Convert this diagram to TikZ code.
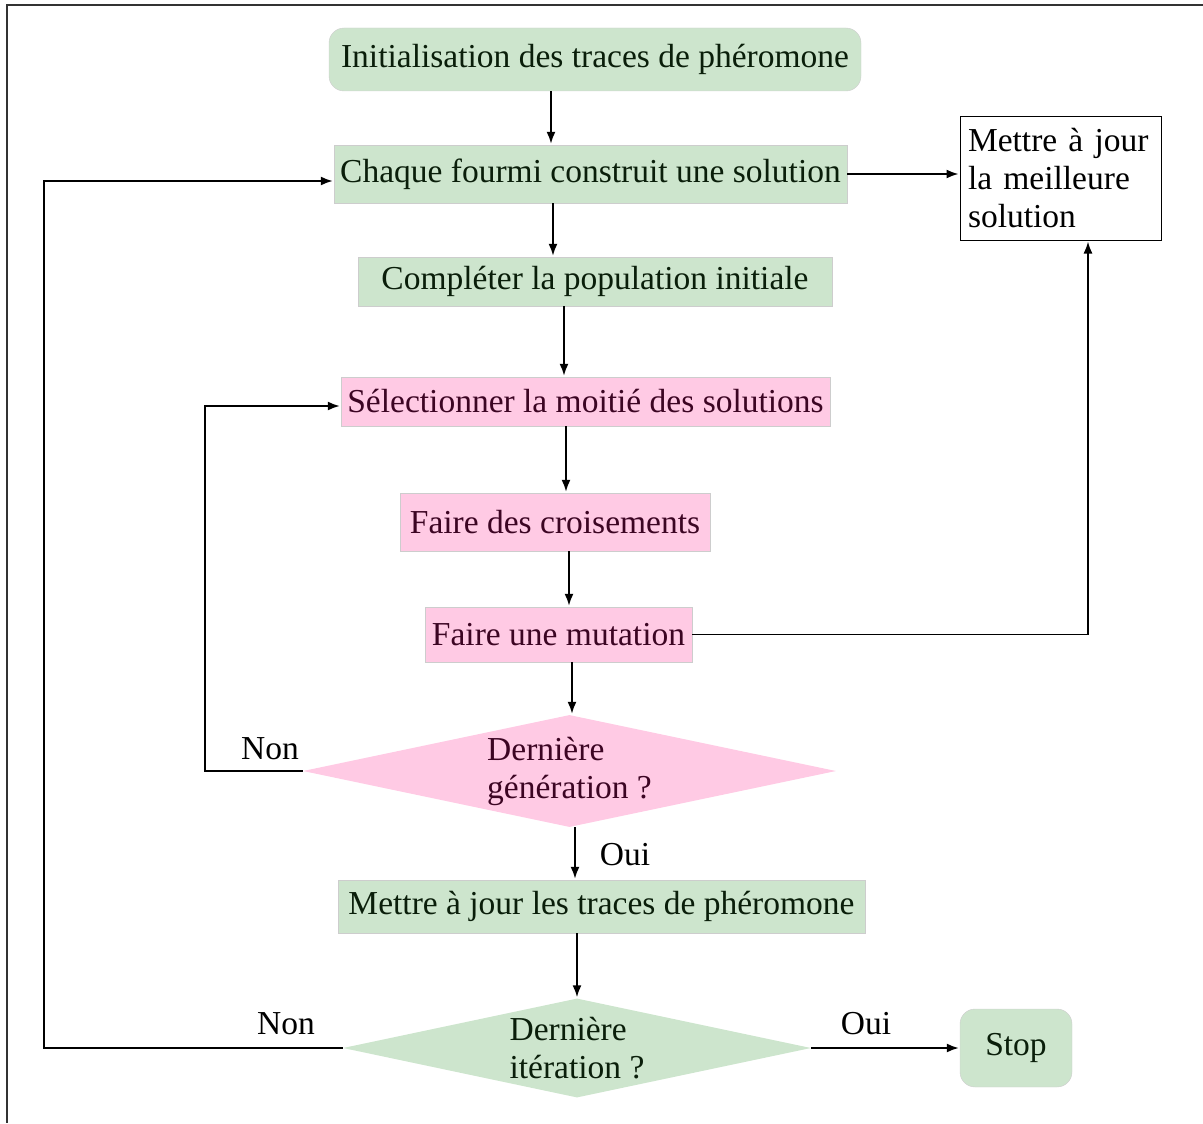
\documentclass[tikz,border=0pt]{standalone}
\usepackage{fontspec}
\setmainfont{Liberation Serif}
\usepackage{tikz}
\usetikzlibrary{arrows.meta,shapes.geometric}

\definecolor{vertclair}{RGB}{205,229,205}
\definecolor{roseclair}{RGB}{255,202,228}
\definecolor{bordgris}{RGB}{205,205,205}
\definecolor{textevert}{RGB}{10,30,10}
\definecolor{texterose}{RGB}{60,5,35}

\begin{document}
\begin{tikzpicture}[x=1pt, y=-1pt, shorten >= 1pt, >={Latex[length=12pt,width=9pt]},
   font=\fontsize{33.5}{38}\selectfont,
   vert/.style={draw=bordgris, fill=vertclair, text=textevert, inner sep=0pt},
   rose/.style={draw=bordgris, fill=roseclair, text=texterose, inner sep=0pt},
   test/.style={diamond, inner sep=0pt, align=left},
   lien/.style={line width=1.8pt}]
   \useasboundingbox (0,0) rectangle (1203,1124);
   \draw[line width=1.8pt, black!80] (1203,5) -- (7,5) -- (7,1124);

   \node[vert, rounded corners=15pt, minimum width=532pt, minimum height=63pt] (q_init) at (595,59.5) {Initialisation des traces de phéromone};
   \node[vert, minimum width=513pt, minimum height=58pt] (q_fourmi) at (590.5,174) {Chaque fourmi construit une solution};
   \node[draw, line width=1pt, fill=white, minimum width=201pt, minimum height=124pt, text width=185pt, align=left] (q_best) at (1060.5,178) {Mettre à jour\\la meilleure\\solution};
   \node[vert, minimum width=474pt, minimum height=49pt] (q_pop) at (595,281.5) {Compléter la population initiale};
   \node[rose, minimum width=489pt, minimum height=49pt] (q_select) at (585.5,401.5) {Sélectionner la moitié des solutions};
   \node[rose, minimum width=310pt, minimum height=58pt] (q_crois) at (555,522) {Faire des croisements};
   \node[rose, minimum width=267pt, minimum height=55pt] (q_mut) at (558.5,634.5) {Faire une mutation};
   \node[test, fill=roseclair, text=texterose, aspect=4.76, minimum width=533pt, minimum height=112pt] (q_gen) at (569.5,771) {Dernière\\génération ?};
   \node[vert, minimum width=527pt, minimum height=53pt] (q_phero) at (601.5,906.5) {Mettre à jour les traces de phéromone};
   \node[test, fill=vertclair, text=textevert, aspect=4.73, minimum width=468pt, minimum height=99pt] (q_iter) at (577,1048) {Dernière\\itération ?};
   \node[vert, rounded corners=15pt, minimum width=112pt, minimum height=78pt] (q_stop) at (1016,1048) {Stop};

   \node (l_non1) at (270,749) {Non};
   \node (l_oui1) at (625,855) {Oui};
   \node (l_non2) at (286,1024) {Non};
   \node (l_oui2) at (866,1024) {Oui};

   \path[->, lien]
    (q_init.south -| 551,0) edge (q_fourmi.north -| 551,0)
    (q_fourmi.south -| 553,0) edge (q_pop.north -| 553,0)
    (q_pop.south -| 564,0) edge (q_select.north -| 564,0)
    (q_select.south -| 566,0) edge (q_crois.north -| 566,0)
    (q_crois.south -| 569,0) edge (q_mut.north -| 569,0)
    (q_mut.south -| 572,0) edge (q_gen.north -| 572,0)
    (q_gen.south -| 575,0) edge (q_phero.north -| 575,0)
    (q_phero.south -| 577,0) edge (q_iter.north)
    (q_fourmi.east) edge (q_fourmi.east -| q_best.west)
    (q_iter.east) edge (q_stop.west);
   \draw[->, lien] (q_mut.east) -| ([xshift=27.5pt]q_best.south);
   \draw[->, lien] (q_gen.west) -- (205,771) |- ([yshift=-4.5pt]q_select.west);
   \draw[->, lien] (q_iter.west) -- (44,1048) |- ([yshift=-7pt]q_fourmi.west);
\end{tikzpicture}
\end{document}
